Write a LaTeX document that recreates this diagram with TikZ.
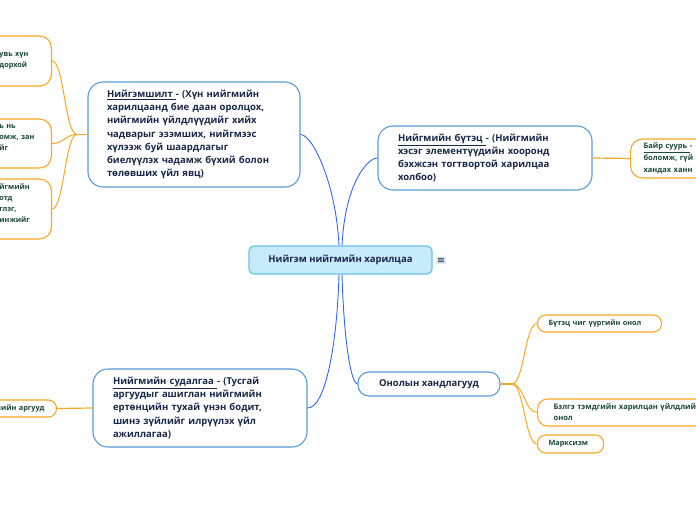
\documentclass[tikz,border=0pt]{standalone}
\usepackage{fontspec}
\setmainfont{Open Sans}
\newfontfamily\symfont{DejaVu Sans}
\definecolor{conblue}{RGB}{52,104,236}
\definecolor{nodeblue}{RGB}{88,156,218}
\definecolor{orline}{RGB}{248,168,36}
\definecolor{rootfill}{RGB}{200,235,252}
\definecolor{rootborder}{RGB}{110,192,240}
\definecolor{navy}{RGB}{26,40,72}
\definecolor{darkgreen}{RGB}{28,72,56}
\definecolor{menufill}{RGB}{222,230,238}
\begin{document}
\begin{tikzpicture}[x=1pt,y=-1pt,
  font=\fontsize{9.5}{13.2}\selectfont\bfseries,
  rootbox/.style={draw=rootborder, fill=rootfill, line width=1.2pt, rounded corners=5pt,
    minimum width=183pt, minimum height=28pt, inner sep=0pt, text=navy},
  bigbox/.style={draw=nodeblue, fill=white, line width=1.1pt, rounded corners=15pt,
    text=navy, align=left, text width=174pt, inner xsep=19pt, inner ysep=0pt},
  midbox/.style={draw=nodeblue, fill=white, line width=1.1pt, rounded corners=11pt,
    text=navy, inner sep=0pt},
  smallbox/.style={draw=orline, fill=white, line width=1.1pt, rounded corners=8pt,
    text=darkgreen, font=\fontsize{7.3}{11}\selectfont\bfseries, align=left, inner ysep=0pt},
  bluecon/.style={draw=conblue, line width=0.9pt},
  orcon/.style={draw=orline, line width=1pt},
  orstub/.style={draw=orline, line width=1.8pt},
  orline1/.style={draw=orline, line width=1.2pt}
]
\useasboundingbox (0,0) rectangle (696,520);

% root
\node[rootbox] (root) at (340.5,260) {Нийгэм нийгмийн харилцаа};
\node[fill=menufill, inner xsep=1.2pt, inner ysep=0.8pt, text=navy, font=\symfont\fontsize{9.5}{9.5}\selectfont] (menu) at (441,260.5) {≡};

% main branches
\node[bigbox, minimum height=105pt] (n1) at (194,134.5)
 {\underline{Нийгэмшилт }- (Хүн нийгмийн\\харилцаанд бие даан оролцох,\\нийгмийн үйлдлүүдийг хийх\\чадварыг эзэмших, нийгмээс\\хүлээж буй шаардлагыг\\биелүүлэх чадамж бүхий болон\\төлөвших үйл явц)};
\node[bigbox, inner xsep=20pt, minimum height=64pt] (n2) at (485,158)
 {\underline{Нийгмийн бүтэц }- (Нийгмийн\\хэсэг элементүүдийн хооронд\\бэхжсэн тогтвортой харилцаа\\холбоо)};
\node[bigbox, inner xsep=20pt, minimum height=78pt] (n3) at (200,408)
 {\underline{Нийгмийн судалгаа }- (Тусгай\\аргуудыг ашиглан нийгмийн\\ертөнцийн тухай үнэн бодит,\\шинэ зүйлийг илрүүлэх үйл\\ажиллагаа)};
\node[midbox, minimum width=142pt, minimum height=24pt] (n4) at (429,384) {Онолын хандлагууд};

% children of n1 (cut by left edge)
\node[smallbox, rounded corners=12pt, text width=38pt, inner xsep=14pt, minimum height=50pt, anchor=east] (a) at (52,61) {увь хүн\\дорхой};
\node[smallbox, rounded corners=12pt, text width=38pt, inner xsep=14pt, minimum height=49pt, anchor=east] (b) at (52,143.5) {ь нь\\омж, зан\\йг\\\mbox{}};
\node[smallbox, rounded corners=12pt, text width=38pt, inner xsep=14pt, minimum height=60pt, anchor=east] (c) at (52,209) {йгмийн\\отд\\глэг,\\инжийг\\\mbox{}};

% child of n2 (cut by right edge)
\node[smallbox, rounded corners=12pt, text width=94pt, inner xsep=13pt, minimum height=39pt, anchor=west, font=\fontsize{7.5}{12}\selectfont\bfseries] (n5) at (630,158.5)
 {\underline{Байр суурь }-\\боломж, гүй\\хандах ханн};

% child of n3 (cut by left edge)
\node[smallbox, text width=80pt, align=right, inner xsep=12pt, minimum height=17pt, anchor=east] (n6) at (57,408.5) {мийн аргууд};

% children of n4
\node[smallbox, text width=102pt, inner xsep=11pt, minimum height=17pt, anchor=west] (n7) at (537,323.5) {Бүтэц чиг үүргийн онол};
\node[smallbox, rounded corners=10pt, text width=160pt, inner xsep=16pt, minimum height=27pt, anchor=west, font=\fontsize{7.6}{11}\selectfont\bfseries] (n8) at (537,412.5) {Бэлгэ тэмдгийн харилцан үйлдлийн\\онол};
\node[smallbox, text width=44pt, inner xsep=11pt, minimum height=18pt, anchor=west] (n9) at (537,444) {Марксизм};

% blue connectors
\draw[bluecon] (n1.east) .. controls +(12,0) and +(-3,-62) .. ([xshift=-1.5pt]root.north);
\draw[bluecon] (n2.west) .. controls +(-10,0) and +(3,-62) .. ([xshift=1.5pt]root.north);
\draw[bluecon] ([xshift=-1.5pt]root.south) .. controls +(-2,70) and +(18,0) .. (n3.east);
\draw[bluecon] ([xshift=1.5pt]root.south) .. controls +(2,70) and +(-6,0) .. (n4.west);

% orange connectors
\coordinate (j1) at (77,134.5);
\coordinate (j2) at (512,384);
\draw[orstub] (n1.west) -- (j1);
\draw[orcon] (j1) .. controls +(-12,0) and +(12,0) .. (a.east);
\draw[orcon] (j1) .. controls +(-12,0) and +(12,0) .. (b.east);
\draw[orcon] (j1) .. controls +(-12,0) and +(12,0) .. (c.east);
\draw[orline1] (n2.east) -- (n5.west);
\draw[orline1] (n3.west) -- (n6.east);
\draw[orstub] (n4.east) -- (j2);
\draw[orcon] (j2) .. controls +(12,0) and +(-12,0) .. (n7.west);
\draw[orcon] (j2) .. controls +(12,0) and +(-12,0) .. (n8.west);
\draw[orcon] (j2) .. controls +(12,0) and +(-12,0) .. (n9.west);
\end{tikzpicture}
\end{document}
